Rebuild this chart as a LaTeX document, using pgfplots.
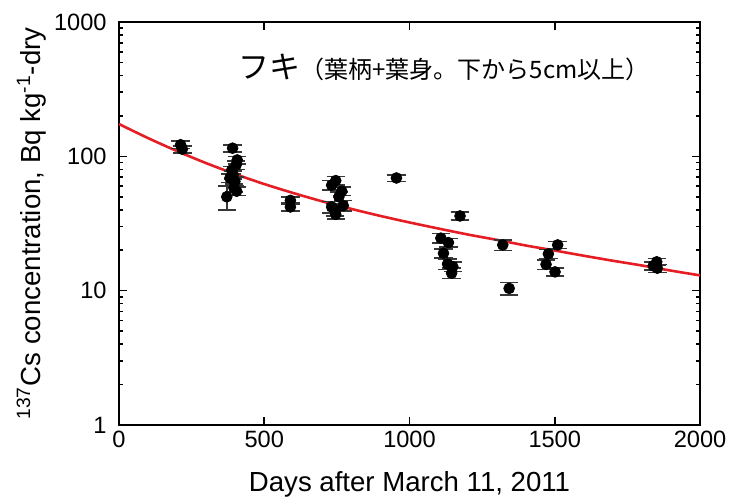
\documentclass[border=0pt]{standalone}
\usepackage{fontspec}
\setmainfont{Liberation Sans}
\newfontfamily\cjk{Noto Sans CJK JP}
\usepackage{pgfplots}
\pgfplotsset{compat=1.18}
\usepackage{pgfplotstable}

\definecolor{fitred}{RGB}{228,30,36}
\definecolor{errgray}{RGB}{55,55,55}

% 137Cs in fuki (petiole + leaf blade), days after 2011-03-11
\pgfplotstableread{
x    y     e
212  122   8
218  113   7
391  115   7
407  94    6
403  86    6
388  79    5
393  73    5
382  69    5
399  65    5
396  58    4
405  55    4
371  50    10
590  47    3
590  42    3
746  66    5
732  61    5
767  55    4
757  50    4
732  42    4
772  43    4
744  40    4
746  37    3
955  69    4
1174 36    2.5
1108 24.6  2
1134 22.8  1.6
1117 19.0  1.5
1131 15.8  1.4
1149 15.1  1.2
1145 13.5  1.2
1321 21.9  2
1343 10.4  1.1
1510 21.9  1.3
1478 18.8  1.5
1470 15.7  1.3
1501 13.8  1.0
1851 16.4  1.0
1839 15.3  1.0
1853 14.7  1.0
}\cesium

% fitted decay curve
\pgfplotstableread{
x    y
0    174.0
100  136.7
200  109.4
300  89.0
400  73.8
500  62.2
600  53.3
700  46.2
800  40.6
900  36.0
1000 32.2
1100 29.0
1200 26.2
1300 23.9
1400 21.7
1500 19.9
1600 18.2
1700 16.7
1800 15.4
1900 14.1
2000 13.0
}\fitcurve

\begin{document}
\begin{tikzpicture}
\useasboundingbox (-59.5pt,-37pt) rectangle (306.5pt,212.5pt);
\begin{axis}[
  at={(0,0)}, anchor=south west,
  scale only axis, width=290.5pt, height=201.5pt,
  xmin=0, xmax=2000, ymin=1, ymax=1000, ymode=log,
  xtick={0,500,1000,1500,2000},
  ytick={1,10,100,1000}, yticklabels={1,10,100,1000},
  minor x tick num=0,
  tick align=inside, tick pos=both,
  major tick length=4pt, minor tick length=2pt,
  axis line style={line width=1pt},
  every tick/.style={black, line width=0.8pt},
  /pgf/number format/assume math mode=true,
  /pgf/number format/1000 sep={},
  scaled x ticks=false,
  tick label style={font=\fontsize{11.8}{14}\selectfont},
  yticklabel style={inner sep=0pt, xshift=-6pt},
  xticklabel style={inner sep=0pt, yshift=-3pt},
  xlabel={Days after March 11, 2011},
  ylabel={\textsuperscript{137}Cs concentration, Bq kg\textsuperscript{-1}-dry},
  label style={font=\fontsize{13.8}{16}\selectfont},
  xlabel style={at={(axis description cs:0.5,0)}, anchor=north, inner sep=0pt, yshift=-23pt},
  ylabel style={at={(axis description cs:-0.177,0.5)}, anchor=north, inner sep=0pt},
  clip=true,
]
\addplot[fitred, line width=1.3pt, smooth] table[x=x, y=y] {\fitcurve};
\addplot[only marks, mark=*, mark size=2.7pt, black,
  error bars/.cd, y dir=both, y explicit,
  error bar style={line width=0.8pt, color=errgray},
  error mark options={rotate=90, mark size=4.6pt, line width=0.8pt, color=errgray}]
  table[x=x, y=y, y error=e] {\cesium};
\node[anchor=west, inner sep=0pt] at (rel axis cs:0.205,0.888)
  {{\fontsize{15.5}{17}\selectfont\cjk フキ}{\fontsize{12}{14}\selectfont\cjk （葉柄+葉身。下から5cm以上）}};
\end{axis}
\end{tikzpicture}
\end{document}
